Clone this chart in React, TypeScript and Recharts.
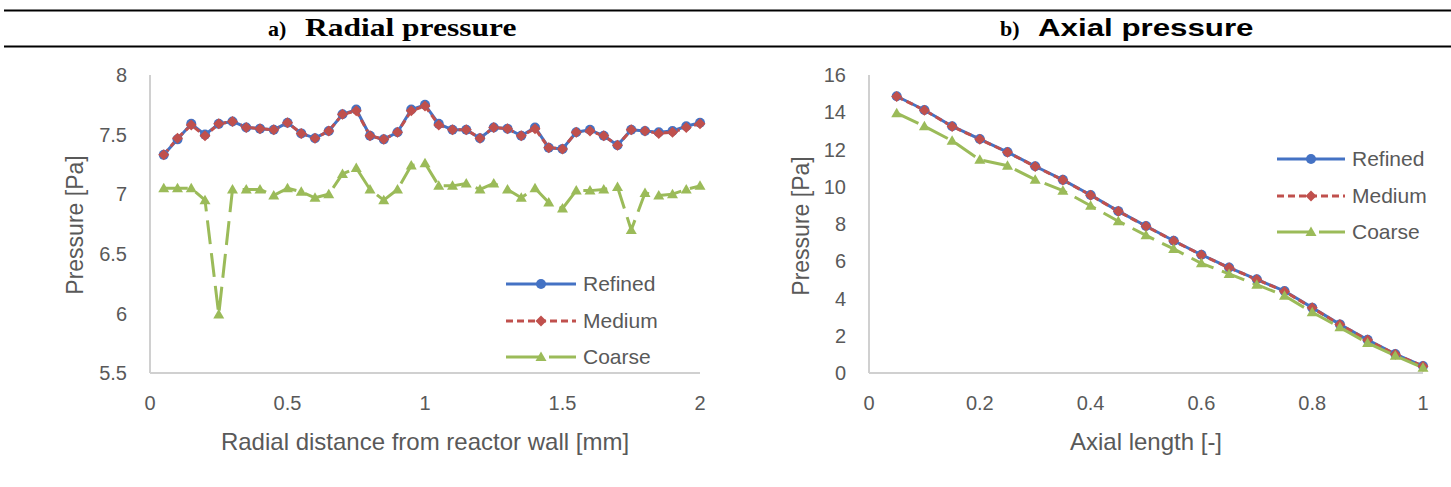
import { LineChart, Line, XAxis, YAxis, Legend } from "recharts";

// a) radial pressure, sampled every 0.05 mm from the wall
const radialX = [
  0.05, 0.1, 0.15, 0.2, 0.25, 0.3, 0.35, 0.4, 0.45, 0.5,
  0.55, 0.6, 0.65, 0.7, 0.75, 0.8, 0.85, 0.9, 0.95, 1.0,
  1.05, 1.1, 1.15, 1.2, 1.25, 1.3, 1.35, 1.4, 1.45, 1.5,
  1.55, 1.6, 1.65, 1.7, 1.75, 1.8, 1.85, 1.9, 1.95, 2.0,
];
const radialRefined = [
  7.33, 7.46, 7.59, 7.5, 7.59, 7.61, 7.56, 7.55, 7.54, 7.6,
  7.51, 7.47, 7.53, 7.67, 7.71, 7.49, 7.46, 7.52, 7.71, 7.75,
  7.59, 7.54, 7.54, 7.47, 7.56, 7.55, 7.49, 7.56, 7.39, 7.38,
  7.52, 7.54, 7.49, 7.41, 7.54, 7.53, 7.52, 7.53, 7.57, 7.6,
];
const radialMedium = [
  7.33, 7.47, 7.58, 7.49, 7.59, 7.61, 7.56, 7.55, 7.54, 7.6,
  7.51, 7.47, 7.53, 7.67, 7.7, 7.49, 7.46, 7.52, 7.7, 7.74,
  7.58, 7.54, 7.54, 7.47, 7.56, 7.55, 7.49, 7.55, 7.39, 7.38,
  7.52, 7.53, 7.49, 7.41, 7.54, 7.53, 7.51, 7.52, 7.56, 7.59,
];
const radialCoarse = [
  7.05, 7.05, 7.05, 6.95, 5.99, 7.04, 7.04, 7.04, 6.99, 7.05,
  7.02, 6.97, 7.0, 7.17, 7.22, 7.04, 6.95, 7.04, 7.24, 7.26,
  7.07, 7.07, 7.09, 7.04, 7.09, 7.04, 6.97, 7.05, 6.93, 6.88,
  7.03, 7.03, 7.04, 7.06, 6.7, 7.01, 6.99, 7.0, 7.04, 7.07,
];
const radialXTicks = [0, 0.5, 1, 1.5, 2];
const radialYTicks = [5.5, 6, 6.5, 7, 7.5, 8];

// b) axial pressure along the normalised length
const axialX = [
  0.05, 0.1, 0.15, 0.2, 0.25, 0.3, 0.35, 0.4, 0.45, 0.5,
  0.55, 0.6, 0.65, 0.7, 0.75, 0.8, 0.85, 0.9, 0.95, 1.0,
];
const axialRefined = [
  14.86, 14.12, 13.25, 12.56, 11.86, 11.1, 10.37, 9.56, 8.69, 7.89,
  7.1, 6.35, 5.66, 5.03, 4.4, 3.51, 2.61, 1.78, 1.02, 0.37,
];
const axialMedium = [
  14.85, 14.11, 13.24, 12.55, 11.85, 11.09, 10.36, 9.55, 8.68, 7.88,
  7.09, 6.34, 5.65, 5.02, 4.38, 3.5, 2.6, 1.77, 1.01, 0.36,
];
const axialCoarse = [
  13.95, 13.25, 12.47, 11.45, 11.13, 10.38, 9.79, 8.98, 8.15, 7.39,
  6.66, 5.89, 5.32, 4.74, 4.15, 3.26, 2.45, 1.61, 0.93, 0.28,
];
const axialXTicks = [0, 0.2, 0.4, 0.6, 0.8, 1];
const axialYTicks = [0, 2, 4, 6, 8, 10, 12, 14, 16];

const FONT = '"Liberation Sans", Arial, sans-serif';
const SERIF = '"Liberation Serif", "Times New Roman", serif';
const GREY = "#595959";
const AXIS = "#D0D0D0";

type Shape = "circle" | "diamond" | "triangle";

const SERIES: { key: string; name: string; color: string; dash?: string; shape: Shape }[] = [
  { key: "refined", name: "Refined", color: "#4472C4", shape: "circle" },
  { key: "medium", name: "Medium", color: "#C0504D", dash: "7 4", shape: "diamond" },
  { key: "coarse", name: "Coarse", color: "#9BBB59", dash: "24 9", shape: "triangle" },
];

function marker(shape: Shape, cx: number, cy: number, color: string, key?: number | string) {
  if (cx == null || cy == null) return <g key={key} />;
  if (shape === "circle") return <circle key={key} cx={cx} cy={cy} r={5} fill={color} />;
  if (shape === "diamond") {
    const d = 5.5;
    return (
      <polygon
        key={key}
        points={`${cx},${cy - d} ${cx + d},${cy} ${cx},${cy + d} ${cx - d},${cy}`}
        fill={color}
      />
    );
  }
  return (
    <polygon
      key={key}
      points={`${cx},${cy - 5.5} ${cx + 5.5},${cy + 4} ${cx - 5.5},${cy + 4}`}
      fill={color}
    />
  );
}

function SeriesLegend({ lineWidth }: { lineWidth: number }) {
  const mid = lineWidth / 2;
  return (
    <div style={{ fontFamily: FONT, fontSize: 21, color: GREY }}>
      {SERIES.map((s) => (
        <div key={s.key} style={{ display: "flex", alignItems: "center", height: 36.5 }}>
          <svg width={lineWidth} height={16} style={{ display: "block" }}>
            {s.shape === "triangle" ? (
              // long-dash sample: solid up to the marker, a gap, then a dash
              <g stroke={s.color} strokeWidth={3}>
                <line x1={0} y1={8} x2={mid} y2={8} />
                <line x1={mid + 8} y1={8} x2={lineWidth} y2={8} />
              </g>
            ) : (
              <line
                x1={0}
                y1={8}
                x2={lineWidth}
                y2={8}
                stroke={s.color}
                strokeWidth={3}
                strokeDasharray={s.dash}
              />
            )}
            {marker(s.shape, mid, 8, s.color)}
          </svg>
          <span style={{ marginLeft: 7, whiteSpace: "nowrap" }}>{s.name}</span>
        </div>
      ))}
    </div>
  );
}

interface ChartProps {
  data: Record<string, number>[];
  xTicks: number[];
  yTicks: number[];
  width: number;
  yAxisWidth: number;
  marginRight: number;
  legendLeft: number;
  legendTop: number;
  legendLine: number;
}

function PressureChart(p: ChartProps) {
  const tickStyle = { fill: GREY, fontSize: 20, fontFamily: FONT };
  return (
    <LineChart
      width={p.width}
      height={487}
      data={p.data}
      margin={{ top: 75, right: p.marginRight, bottom: 84, left: 0 }}
    >
      <XAxis
        dataKey="x"
        type="number"
        domain={[p.xTicks[0], p.xTicks[p.xTicks.length - 1]]}
        ticks={p.xTicks}
        height={30}
        tick={tickStyle}
        tickLine={false}
        tickSize={0}
        tickMargin={23}
        axisLine={{ stroke: AXIS, strokeWidth: 2 }}
      />
      <YAxis
        type="number"
        domain={[p.yTicks[0], p.yTicks[p.yTicks.length - 1]]}
        ticks={p.yTicks}
        width={p.yAxisWidth}
        tick={tickStyle}
        tickLine={false}
        tickSize={0}
        tickMargin={23}
        axisLine={{ stroke: AXIS, strokeWidth: 2 }}
      />
      <Legend
        layout="vertical"
        align="center"
        verticalAlign="middle"
        wrapperStyle={{ left: p.legendLeft, top: p.legendTop, width: 200 }}
        content={() => <SeriesLegend lineWidth={p.legendLine} />}
      />
      {SERIES.map((s) => (
        <Line
          key={s.key}
          type="linear"
          dataKey={s.key}
          name={s.name}
          stroke={s.color}
          strokeWidth={3}
          strokeDasharray={s.dash}
          strokeLinejoin="round"
          dot={(d: any) => marker(s.shape, d.cx, d.cy, s.color, d.index)}
          activeDot={false}
          isAnimationActive={false}
        />
      ))}
    </LineChart>
  );
}

const label = (text: string, left: number, top: number, size: number, rotate = false) => (
  <div
    style={{
      position: "absolute",
      left,
      top,
      transform: `translate(-50%, -50%)${rotate ? " rotate(-90deg)" : ""}`,
      fontFamily: FONT,
      fontSize: size,
      color: GREY,
      whiteSpace: "nowrap",
    }}
  >
    {text}
  </div>
);

export default function App() {
  const radialData = radialX.map((x, i) => ({
    x,
    refined: radialRefined[i],
    medium: radialMedium[i],
    coarse: radialCoarse[i],
  }));
  const axialData = axialX.map((x, i) => ({
    x,
    refined: axialRefined[i],
    medium: axialMedium[i],
    coarse: axialCoarse[i],
  }));

  return (
    <div
      style={{
        position: "absolute",
        left: 0,
        top: 0,
        width: 1451,
        height: 487,
        background: "#fff",
        overflow: "hidden",
      }}
    >
      {/* table-style header with the two panel titles */}
      <svg width={1451} height={60} style={{ position: "absolute", left: 0, top: 0 }}>
        <line x1={4} y1={10.5} x2={1451} y2={10.5} stroke="#000" strokeWidth={2} />
        <line x1={4} y1={46.5} x2={1451} y2={46.5} stroke="#000" strokeWidth={2} />
        <text x={268} y={36} fontFamily={SERIF} fontWeight="bold" fontSize={22}>
          a)
        </text>
        <text transform="translate(305,36) scale(1.26,1)" fontFamily={SERIF} fontWeight="bold" fontSize={25}>
          Radial pressure
        </text>
        <text x={1000} y={36} fontFamily={SERIF} fontWeight="bold" fontSize={22}>
          b)
        </text>
        <text transform="translate(1038,36) scale(1.36,1)" fontFamily={FONT} fontWeight="bold" fontSize={23}>
          Axial pressure
        </text>
      </svg>

      <div style={{ position: "absolute", left: 0, top: 0 }}>
        <PressureChart
          data={radialData}
          xTicks={radialXTicks}
          yTicks={radialYTicks}
          width={725}
          yAxisWidth={150}
          marginRight={25}
          legendLeft={506}
          legendTop={266}
          legendLine={70}
        />
      </div>
      <div style={{ position: "absolute", left: 725, top: 0 }}>
        <PressureChart
          data={axialData}
          xTicks={axialXTicks}
          yTicks={axialYTicks}
          width={726}
          yAxisWidth={144}
          marginRight={28}
          legendLeft={552}
          legendTop={141}
          legendLine={68}
        />
      </div>

      {label("Pressure [Pa]", 75, 225, 23, true)}
      {label("Pressure [Pa]", 801, 226, 23, true)}
      {label("Radial distance from reactor wall [mm]", 425, 442, 24)}
      {label("Axial length [-]", 1146, 442, 24)}
    </div>
  );
}
